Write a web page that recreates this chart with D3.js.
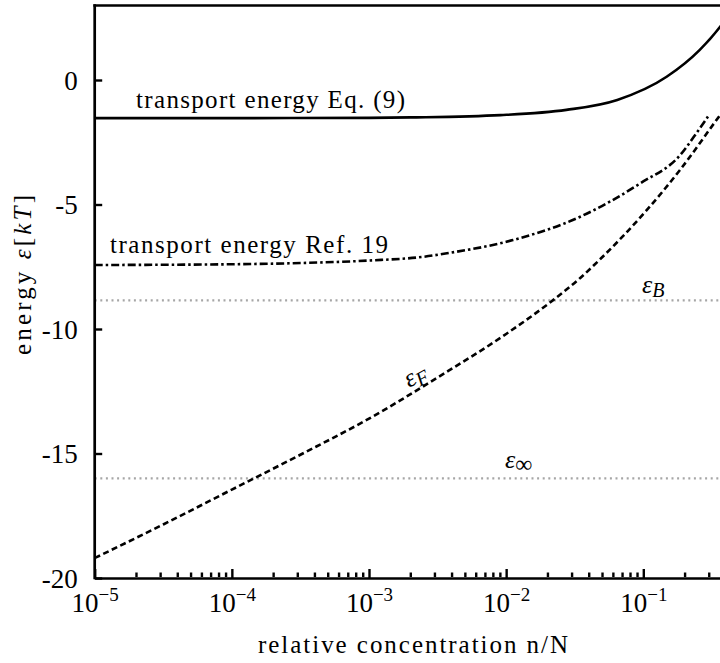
<!DOCTYPE html>
<html>
<head>
<meta charset="utf-8">
<script src="https://cdn.jsdelivr.net/npm/d3@7"></script>
<style>
  html, body { margin: 0; padding: 0; background: #fff; }
  svg { display: block; }
  svg text { font-family: "Liberation Serif", "DejaVu Serif", serif; fill: #000; }
</style>
</head>
<body>
<svg id="chart" width="720" height="663"></svg>
<script>
// ---- data ----
const xMajorTicks = [1e-5, 1e-4, 1e-3, 1e-2, 1e-1, 1];
const xMajorExponents = ["−5", "−4", "−3", "−2", "−1", ""];
const yTicks = [0, -5, -10, -15, -20];
const yTickLabels = ["0", "-5", "-10", "-15", "-20"];

// transport energy Eq. (9) (solid)
const eq9Conc = [1e-5, 1e-4, 1e-3, 2.14e-3, 9.1e-3, 2.75e-2, 6.46e-2, 0.148, 0.257, 0.363, 0.417];
const eq9Energy = [-1.53, -1.53, -1.52, -1.50, -1.41, -1.20, -0.80, 0.13, 1.20, 2.14, 2.60];

// transport energy Ref. 19 (dash-dot)
const ref19Conc = [1e-5, 3.2e-5, 1e-4, 3.2e-4, 1e-3, 2.5e-3, 3.7e-3, 1.12e-2, 3.47e-2, 9.5e-2, 0.186, 0.245, 0.296];
const ref19Energy = [-7.43, -7.42, -7.40, -7.35, -7.25, -7.10, -6.96, -6.43, -5.49, -4.15, -3.01, -2.12, -1.47];

// Fermi energy eps_F (dashed)
const fermiConc = [1e-5, 3.16e-5, 1e-4, 3.16e-4, 1e-3, 3.16e-3, 1e-2, 2.2e-2, 3.47e-2, 4.84e-2, 0.107, 0.186, 0.363, 0.40];
const fermiEnergy = [-19.2, -17.85, -16.45, -15.05, -13.6, -11.95, -10.2, -8.84, -7.95, -7.2, -5.2, -3.6, -1.41, -1.1];

// constant levels
const epsB = -8.85;
const epsInf = -16.0;

// ---- layout ----
const W = 720, H = 663;
const padL = 94.7, padT = 5.5, padB = 578;
const decade = 137.15;
const svg = d3.select("#chart");

const x = d3.scaleLog().domain([1e-5, 1]).range([padL, padL + 5 * decade]);
const y = d3.scaleLinear().domain([-20, 3]).range([padB, padB - 23 * 24.9]);

svg.append("clipPath").attr("id", "plotclip")
  .append("rect").attr("x", padL).attr("y", padT).attr("width", W - padL).attr("height", padB - padT);

const plot = svg.append("g").attr("clip-path", "url(#plotclip)");

// constant dotted lines
[epsB, epsInf].forEach(v => {
  plot.append("line")
    .attr("x1", x(1e-5)).attr("x2", x(1))
    .attr("y1", y(v)).attr("y2", y(v))
    .attr("stroke", "#a6a6a6").attr("stroke-width", 2.2)
    .attr("stroke-dasharray", "2,3.6");
});

const line = d3.line().x(d => x(d[0])).y(d => y(d[1])).curve(d3.curveMonotoneX);

function series(c, e) { return c.map((v, i) => [v, e[i]]); }

plot.append("path").datum(series(eq9Conc, eq9Energy))
  .attr("d", line).attr("fill", "none").attr("stroke", "#000").attr("stroke-width", 2.6);

plot.append("path").datum(series(ref19Conc, ref19Energy))
  .attr("d", line).attr("fill", "none").attr("stroke", "#000").attr("stroke-width", 2.6)
  .attr("stroke-dasharray", "8,3,2.5,3");

plot.append("path").datum(series(fermiConc, fermiEnergy))
  .attr("d", line).attr("fill", "none").attr("stroke", "#000").attr("stroke-width", 2.6)
  .attr("stroke-dasharray", "6,3.5");

// ---- axes ----
const minorTicks = [];
for (let d = -5; d < 0; d++) {
  for (let k = 2; k <= 9; k++) minorTicks.push(k * Math.pow(10, d));
}

const xMinorAxis = d3.axisBottom(x).tickValues(minorTicks).tickSize(-4.5).tickSizeOuter(0).tickFormat("");
const gxm = svg.append("g").attr("transform", `translate(0,${padB})`).call(xMinorAxis);
gxm.select(".domain").remove();
gxm.selectAll("line").attr("stroke-width", 2.4).attr("transform", "translate(0,-1)");

const xAxis = d3.axisBottom(x).tickValues(xMajorTicks).tickSize(-9).tickSizeOuter(0).tickFormat("");
const gx = svg.append("g").attr("transform", `translate(0,${padB})`).call(xAxis);
gx.select(".domain").attr("stroke-width", 2.7);
gx.selectAll(".tick line").attr("stroke-width", 2.4);
gx.selectAll(".tick").filter((d, i) => xMajorExponents[i] !== "").each(function(d) {
  const i = xMajorTicks.indexOf(d);
  const t = d3.select(this).append("text")
    .attr("y", 34).attr("text-anchor", "middle")
    .attr("font-size", 27).attr("fill", "#000");
  t.append("tspan").text("10");
  t.append("tspan").attr("font-size", 19).attr("dy", -11).text(xMajorExponents[i]);
});

const yAxis = d3.axisLeft(y).tickValues(yTicks).tickSize(-7.5).tickSizeOuter(0)
  .tickFormat((d, i) => yTickLabels[i]);
const gy = svg.append("g").attr("transform", `translate(${padL},0)`).call(yAxis);
gy.select(".domain").attr("stroke-width", 2.7).attr("d", `M0,${padB + 1.3}V${padT - 1.3}`);
gy.selectAll(".tick line").attr("stroke-width", 2.4);
gy.selectAll(".tick text")
  .attr("x", -17).attr("dy", "0.34em")
  .attr("font-size", 27).attr("font-family", null).attr("fill", "#000");

// top border
svg.append("line").attr("x1", padL - 1.3).attr("x2", W).attr("y1", padT).attr("y2", padT)
  .attr("stroke", "#000").attr("stroke-width", 2.7);

// ---- labels ----
svg.append("text").attr("x", 136).attr("y", 108).attr("font-size", 25)
  .attr("textLength", 269).attr("lengthAdjust", "spacing")
  .text("transport energy Eq. (9)");

svg.append("text").attr("x", 110).attr("y", 253).attr("font-size", 25)
  .attr("textLength", 278).attr("lengthAdjust", "spacing")
  .text("transport energy Ref. 19");

const lb = svg.append("text").attr("x", 642).attr("y", 293).attr("font-size", 26);
lb.append("tspan").attr("font-style", "italic").text("ε");
lb.append("tspan").attr("font-style", "italic").attr("font-size", 20).attr("dy", 4).text("B");

const li = svg.append("text").attr("x", 505).attr("y", 468).attr("font-size", 26);
li.append("tspan").attr("font-style", "italic").text("ε");
li.append("tspan").attr("font-size", 24).attr("dy", 4).text("∞");

const lf = svg.append("text").attr("transform", "translate(409,388) rotate(-28)").attr("font-size", 26);
lf.append("tspan").attr("font-style", "italic").text("ε");
lf.append("tspan").attr("font-style", "italic").attr("font-size", 20).attr("dy", 4).text("F");

// axis titles
svg.append("text").attr("x", 413).attr("y", 653).attr("text-anchor", "middle").attr("font-size", 25)
  .attr("textLength", 310).attr("lengthAdjust", "spacing")
  .text("relative concentration n/N");

const yl = svg.append("text").attr("transform", "translate(31,275) rotate(-90)")
  .attr("text-anchor", "middle").attr("font-size", 25)
  .attr("textLength", 160).attr("lengthAdjust", "spacing");
yl.append("tspan").text("energy ");
yl.append("tspan").attr("font-style", "italic").text("ε");
yl.append("tspan").text("[");
yl.append("tspan").attr("font-style", "italic").text("kT");
yl.append("tspan").text("]");
</script>
</body>
</html>
